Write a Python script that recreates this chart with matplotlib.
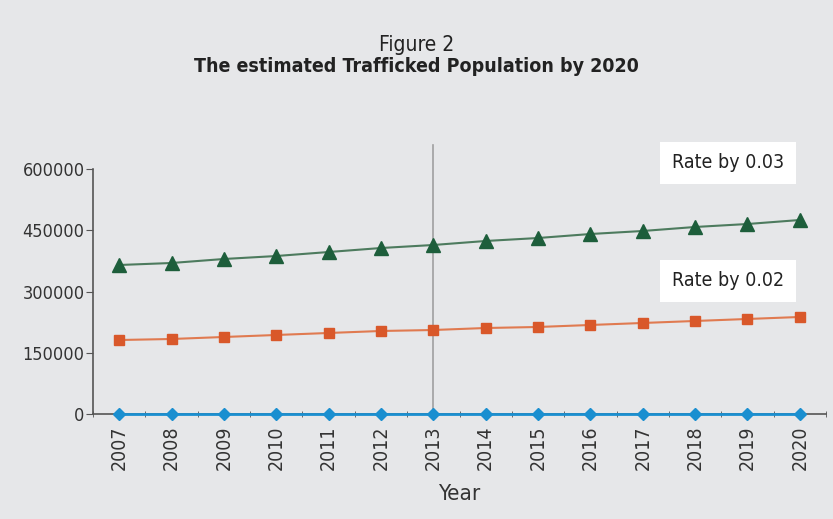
import numpy as np
import matplotlib.pyplot as plt
from matplotlib import font_manager

# Datos estimados de población traficada
years = [2007, 2008, 2009, 2010, 2011, 2012, 2013,
         2014, 2015, 2016, 2017, 2018, 2019, 2020]
base = [0, 0, 0, 0, 0, 0, 0, 0, 0, 0, 0, 0, 0, 0]
rate_002 = [181200, 183700, 188600, 193500, 198400, 203300, 205700,
            210600, 213100, 218000, 222900, 227800, 232700, 237600]
rate_003 = [364900, 369800, 379600, 386900, 396700, 406500, 413900,
            423700, 431000, 440800, 448200, 458000, 465300, 475100]
y_ticks = [0, 150000, 300000, 450000, 600000]

# buscar una fuente estrecha si hay alguna instalada
narrow = [f for f in font_manager.fontManager.ttflist
          if ('Narrow' in f.name or 'Condensed' in f.name or f.stretch in ('condensed', 'semi-condensed'))]
if narrow:
    family = narrow[0].name
    stretch = narrow[0].stretch
else:
    family, stretch = 'DejaVu Sans', 'normal'
plt.rcParams['font.family'] = [family, 'DejaVu Sans']
plt.rcParams['font.stretch'] = stretch

bg = '#e6e7e9'
fig = plt.figure(figsize=(8.33, 5.19), dpi=100, facecolor=bg)
ax = fig.add_axes([93 / 833, 1 - 414 / 519, (826 - 93) / 833, (414 - 169) / 519])
ax.set_facecolor(bg)

x = np.arange(len(years))

ax.plot(x, base, color='#1a8fd0', lw=2, marker='D', ms=6, mfc='#1a8fd0', mec='#1a8fd0',
        zorder=4, clip_on=False)
ax.plot(x, rate_002, color='#e07a50', lw=1.5, marker='s', ms=6.5, mfc='#d9582a', mec='#d9582a',
        zorder=4)
ax.plot(x, rate_003, color='#4d7b5e', lw=1.5, marker='^', ms=10, mfc='#1d5e3b', mec='#1d5e3b',
        zorder=4)

# línea vertical en 2013
ax.plot([6, 6], [0, 658000], color='#a0a0a0', lw=1.2, zorder=2, clip_on=False)

ax.set_xlim(-0.5, len(years) - 0.5)
ax.set_ylim(0, 600000)
ax.set_yticks(y_ticks)
ax.set_yticklabels([str(v) for v in y_ticks], fontsize=13, color='#333333')
ax.set_xticks(x)
ax.set_xticklabels([str(y) for y in years], rotation=90, fontsize=14, color='#333333')
ax.set_xticks(np.arange(-0.5, len(years), 1), minor=True)
ax.tick_params(axis='x', which='major', length=0, pad=8)
ax.tick_params(axis='x', which='minor', length=5, color='#555555', direction='inout')
ax.tick_params(axis='y', length=5, color='#555555', pad=1)

for s in ['top', 'right']:
    ax.spines[s].set_visible(False)
for s in ['left', 'bottom']:
    ax.spines[s].set_color('#555555')
    ax.spines[s].set_linewidth(1.2)

ax.set_xlabel('Year', fontsize=16, color='#333333', labelpad=10)

box = dict(boxstyle='square,pad=0.6', facecolor='white', edgecolor='none')
ax.text(0.866, 1.0245, 'Rate by 0.03', transform=ax.transAxes, fontsize=14, color='#222222',
        ha='center', va='center', bbox=box)
ax.text(0.866, 0.543, 'Rate by 0.02', transform=ax.transAxes, fontsize=14, color='#222222',
        ha='center', va='center', bbox=box)

fig.text(0.5, 1 - 45 / 519, 'Figure 2', ha='center', va='center', fontsize=15, color='#222222')
fig.text(0.5, 1 - 66 / 519, 'The estimated Trafficked Population by 2020', ha='center',
         va='center', fontsize=14, fontweight='bold', color='#222222')

fig.savefig('out.png', dpi=100, facecolor=bg)
